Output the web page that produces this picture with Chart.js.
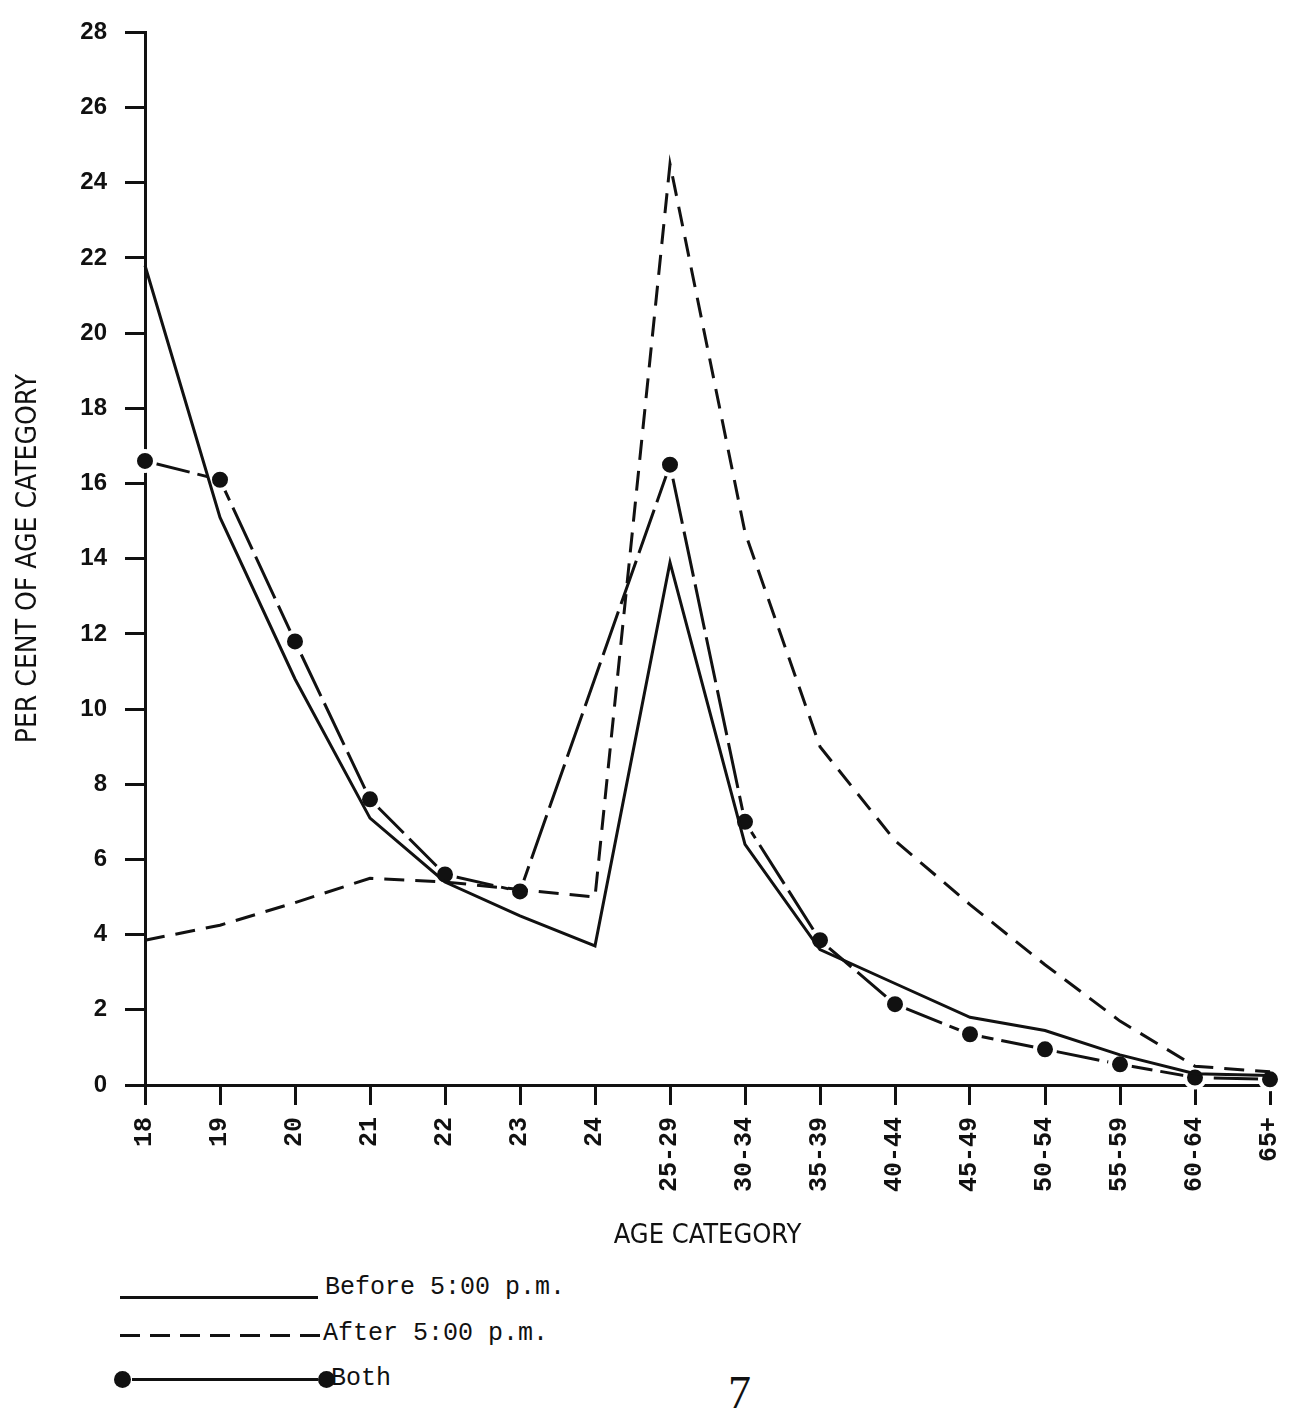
<!DOCTYPE html>
<html lang="en">
<head>
  <meta charset="UTF-8">
  <title>Per Cent of Age Category</title>
  <script src="https://cdn.jsdelivr.net/npm/chart.js"></script>
  <style>
    * {
      margin: 0;
      padding: 0;
      box-sizing: border-box;
    }

    body {
      width: 1292px;
      height: 1419px;
      background: #fff;
      position: relative;
      overflow: hidden;
    }

    #wrap {
      position: absolute;
      left: 0;
      top: 0;
      width: 1292px;
      height: 1260px;
    }

    .key-line {
      position: absolute;
      height: 3px;
      background: #111;
    }

    .key-line.dashed {
      background: repeating-linear-gradient(to right, #111 0 20px, transparent 20px 30px);
    }

    .key-dot {
      position: absolute;
      width: 17px;
      height: 17px;
      border-radius: 50%;
      background: #111;
    }

    .key-text {
      position: absolute;
      font-family: 'Liberation Mono', 'DejaVu Sans Mono', monospace;
      font-size: 25px;
      line-height: 30px;
      color: #111;
      white-space: nowrap;
    }

    .page-no {
      position: absolute;
      left: 728px;
      top: 1366px;
      font-family: 'Liberation Serif', serif;
      font-size: 46px;
      color: #111;
    }
  </style>
</head>
<body>
  <div id="wrap">
    <canvas id="ageChart"></canvas>
  </div>

  <!-- hand drawn style key under the axis -->
  <div class="key-line" style="left:120px; top:1296px; width:198px;"></div>
  <div class="key-text" style="left:325px; top:1273px;">Before 5:00 p.m.</div>

  <div class="key-line dashed" style="left:120px; top:1334px; width:200px;"></div>
  <div class="key-text" style="left:323px; top:1319px;">After 5:00 p.m.</div>

  <div class="key-dot" style="left:114px; top:1371px;"></div>
  <div class="key-line" style="left:132px; top:1378px; width:186px;"></div>
  <div class="key-dot" style="left:318px; top:1371px;"></div>
  <div class="key-text" style="left:331px; top:1364px;">Both</div>

  <div class="page-no">7</div>

  <script>
    const ageLabels = ['18', '19', '20', '21', '22', '23', '24', '25-29', '30-34', '35-39',
                       '40-44', '45-49', '50-54', '55-59', '60-64', '65+'];
    const beforeFive = [21.8, 15.1, 10.8, 7.1, 5.4, 4.5, 3.7, 13.9, 6.4, 3.6,
                        2.7, 1.8, 1.45, 0.8, 0.3, 0.25];
    const afterFive = [3.85, 4.25, 4.85, 5.5, 5.4, 5.2, 5.0, 24.5, 14.7, 9.0,
                       6.5, 4.8, 3.2, 1.7, 0.5, 0.35];
    // no plotted point for "24" in the combined series
    const bothTimes = [16.6, 16.1, 11.8, 7.6, 5.6, 5.15, null, 16.5, 7.0, 3.85,
                       2.15, 1.35, 0.95, 0.55, 0.2, 0.15];
    const yMin = 0;
    const yMax = 28;
    const yStep = 2;

    const ink = '#111';

    new Chart(document.getElementById('ageChart'), {
      type: 'line',
      data: {
        labels: ageLabels,
        datasets: [
          {
            label: 'Before 5:00 p.m.',
            data: beforeFive,
            borderColor: ink,
            borderWidth: 3,
            pointRadius: 0,
            tension: 0,
            clip: false,
            order: 1
          },
          {
            label: 'After 5:00 p.m.',
            data: afterFive,
            borderColor: ink,
            borderWidth: 3,
            borderDash: [20, 11],
            pointRadius: 0,
            tension: 0,
            clip: false,
            order: 2
          },
          {
            label: 'Both',
            data: bothTimes,
            borderColor: ink,
            borderWidth: 3,
            borderDash: [46, 8],
            spanGaps: true,
            pointRadius: 10,
            pointBackgroundColor: ink,
            pointBorderColor: '#fff',
            pointBorderWidth: 4,
            tension: 0,
            clip: false,
            order: 3
          }
        ]
      },
      options: {
        responsive: true,
        maintainAspectRatio: false,
        animation: false,
        layout: {
          padding: { top: 22, right: 22, bottom: 0, left: 0 }
        },
        plugins: {
          legend: { display: false },
          tooltip: { enabled: false }
        },
        scales: {
          x: {
            afterFit: scale => {
              scale.height = 175;
              // rotated labels would otherwise push the last category inwards
              scale.paddingLeft = 0;
              scale.paddingRight = 0;
            },
            grid: {
              drawOnChartArea: false,
              drawTicks: true,
              tickLength: 20,
              color: ink,
              lineWidth: 3
            },
            border: { display: true, color: ink, width: 3 },
            ticks: {
              color: ink,
              minRotation: 90,
              maxRotation: 90,
              padding: 12,
              autoSkip: false,
              font: { family: "'Liberation Mono', 'DejaVu Sans Mono', monospace", size: 25, weight: 'bold' }
            },
            title: {
              display: true,
              text: 'AGE CATEGORY',
              color: ink,
              padding: { top: 0, bottom: 8 },
              font: { family: "'DejaVu Sans Condensed', 'Liberation Sans Narrow', sans-serif", size: 27 }
            }
          },
          y: {
            min: yMin,
            max: yMax,
            afterFit: scale => { scale.width = 145; },
            grid: {
              drawOnChartArea: false,
              drawTicks: true,
              tickLength: 20,
              color: ink,
              lineWidth: 3
            },
            border: { display: true, color: ink, width: 3 },
            ticks: {
              stepSize: yStep,
              color: ink,
              padding: 18,
              font: { family: "'Liberation Sans', sans-serif", size: 24, weight: 'bold' }
            },
            title: {
              display: true,
              text: 'PER CENT OF AGE CATEGORY',
              color: ink,
              padding: { top: 12, bottom: 0 },
              font: { family: "'DejaVu Sans Condensed', 'Liberation Sans Narrow', sans-serif", size: 28 }
            }
          }
        }
      }
    });
  </script>
</body>
</html>
